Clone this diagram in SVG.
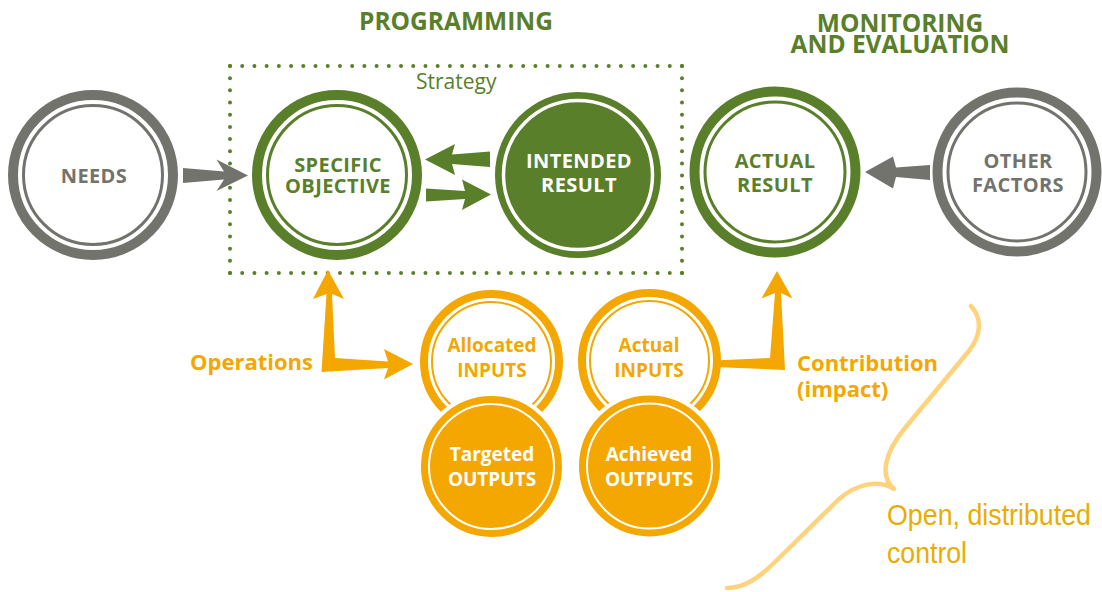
<svg xmlns="http://www.w3.org/2000/svg" width="1102" height="592" viewBox="0 0 1102 592">
  <style>
    .bg { fill: #ffffff; }
    .head { font-family: "Open Sans", "Noto Sans", sans-serif; font-weight: 700; font-size: 24.5px; fill: #5A7F2A; text-anchor: middle; }
    .lbl { font-family: "Open Sans", "Noto Sans", sans-serif; font-weight: 700; font-size: 20px; letter-spacing: 0.4px; text-anchor: middle; }
    .olbl { font-family: "Open Sans", "Noto Sans", sans-serif; font-weight: 700; font-size: 19px; text-anchor: middle; }
    .flow { font-family: "Open Sans", "Noto Sans", sans-serif; font-weight: 700; font-size: 22px; fill: #F4A700; }
    .note { font-family: "Liberation Sans", Arial, sans-serif; font-size: 30px; fill: #E8AD00; }
    .green { fill: #5A7F2A; }
    .gray { fill: #73736E; }
    .orange { fill: #F4A700; }
    .white { fill: #ffffff; }
    .ring-g { fill: #ffffff; stroke: #5A7F2A; }
    .ring-gray { fill: #ffffff; stroke: #73736E; }
    .thin-g { fill: none; stroke: #5A7F2A; stroke-width: 3; }
    .thin-gray { fill: none; stroke: #73736E; stroke-width: 3; }
    .ring-o { fill: #ffffff; stroke: #F4A700; stroke-width: 8; }
    .thin-o { fill: none; stroke: #F4A700; stroke-width: 2; }
    .disc-o { fill: #F4A700; stroke: #ffffff; stroke-width: 4; }
    .thin-w { fill: none; stroke: #ffffff; stroke-width: 2; }
    .dots { stroke: #5A7F2A; stroke-width: 4; stroke-linecap: round; fill: none; }
  </style>

  <rect class="bg" x="0" y="0" width="1102" height="592"/>

  <!-- headings -->
  <text class="head" x="456" y="30">PROGRAMMING</text>
  <text class="head" x="900" y="31.5">MONITORING</text>
  <text class="head" x="900" y="53">AND EVALUATION</text>

  <!-- strategy frame (dotted) -->
  <g id="strategy">
    <line class="dots" x1="230" y1="66" x2="682" y2="66" stroke-dasharray="0 12.216"/>
    <line class="dots" x1="230" y1="273" x2="682" y2="273" stroke-dasharray="0 12.216"/>
    <line class="dots" x1="230" y1="66" x2="230" y2="273" stroke-dasharray="0 12.176"/>
    <line class="dots" x1="682" y1="66" x2="682" y2="273" stroke-dasharray="0 12.176"/>
    <text x="416" y="88.5" font-family="'Open Sans', 'Noto Sans', sans-serif" font-size="21" fill="#5A7F2A">Strategy</text>
  </g>

  <!-- connectors -->
  <g id="connectors">
    <!-- needs -> specific objective -->
    <polygon class="gray" points="183,168 224,171.5 216.5,159.5 248,175.5 216.5,191 224,179.5 183,183"/>
    <!-- intended result -> specific objective -->
    <polygon class="green" points="490,151.5 452,154.5 455,144 425,159.5 455,175 452,164 490,167"/>
    <!-- specific objective -> intended result -->
    <polygon class="green" points="426,188.5 465,191 462,179.5 491,194.5 462,210 465,199 426,201.5"/>
    <!-- other factors -> actual result -->
    <polygon class="gray" points="930,165 896,167.5 893,156.5 865,172 893,188.5 896,177 930,180"/>
    <!-- operations: up to the objective, right to the inputs -->
    <polygon class="orange" points="328,270 344,299 332,294 335,358 388,361.5 384,349 413,364 384,379.5 388,368 321.5,372 326.5,294 313,299"/>
    <!-- contribution: from actual inputs up to the actual result -->
    <polygon class="orange" points="777,271 792.5,298.5 781,293 785,370 714,367 714,360.5 770,358 775,293 761.5,298.5"/>
  </g>

  <!-- top row -->
  <g id="needs">
    <circle class="ring-gray" cx="93" cy="175" r="80" stroke-width="10"/>
    <circle class="thin-gray" cx="93" cy="175" r="69.5"/>
    <text class="lbl gray" x="94" y="183">NEEDS</text>
  </g>

  <g id="specific-objective">
    <circle class="ring-g" cx="337" cy="175" r="80" stroke-width="10"/>
    <circle class="thin-g" cx="337" cy="175" r="69.5"/>
    <text class="lbl green" x="338" y="171.5">SPECIFIC</text>
    <text class="lbl green" x="338" y="193">OBJECTIVE</text>
  </g>

  <g id="intended-result">
    <circle class="green" cx="578" cy="175" r="83"/>
    <circle fill="none" stroke="#ffffff" stroke-width="3.5" cx="578" cy="175" r="74.5"/>
    <text class="lbl white" x="579" y="168">INTENDED</text>
    <text class="lbl white" x="579" y="192">RESULT</text>
  </g>

  <g id="actual-result">
    <circle class="ring-g" cx="775" cy="172" r="80.5" stroke-width="10"/>
    <circle class="thin-g" cx="775" cy="172" r="70"/>
    <text class="lbl green" x="775" y="168">ACTUAL</text>
    <text class="lbl green" x="775" y="192">RESULT</text>
  </g>

  <g id="other-factors">
    <circle class="ring-gray" cx="1017" cy="172" r="79.5" stroke-width="10"/>
    <circle class="thin-gray" cx="1017" cy="172" r="69"/>
    <text class="lbl gray" x="1018" y="168">OTHER</text>
    <text class="lbl gray" x="1018" y="192">FACTORS</text>
  </g>

  <!-- inputs / outputs pairs -->
  <g id="allocated-inputs">
    <circle class="ring-o" cx="491.5" cy="361.5" r="67.5"/>
    <circle class="thin-o" cx="491.5" cy="361.5" r="59.5"/>
    <text class="olbl orange" x="492" y="352">Allocated</text>
    <text class="olbl orange" x="492" y="377">INPUTS</text>
  </g>

  <g id="targeted-outputs">
    <circle class="disc-o" cx="491.5" cy="466.5" r="72.5"/>
    <circle class="thin-w" cx="491.5" cy="466.5" r="62.5"/>
    <text class="olbl white" x="492" y="461">Targeted</text>
    <text class="olbl white" x="492" y="486">OUTPUTS</text>
  </g>

  <g id="actual-inputs">
    <circle class="ring-o" cx="649.5" cy="360.5" r="67.5"/>
    <circle class="thin-o" cx="649.5" cy="360.5" r="59.5"/>
    <text class="olbl orange" x="649" y="352">Actual</text>
    <text class="olbl orange" x="649" y="377">INPUTS</text>
  </g>

  <g id="achieved-outputs">
    <circle class="disc-o" cx="649.5" cy="466" r="72.5"/>
    <circle class="thin-w" cx="649.5" cy="466" r="62.5"/>
    <text class="olbl white" x="649" y="461">Achieved</text>
    <text class="olbl white" x="649" y="486">OUTPUTS</text>
  </g>

  <!-- flow labels -->
  <text class="flow" x="313" y="370" text-anchor="end">Operations</text>
  <text class="flow" x="797" y="371">Contribution</text>
  <text class="flow" x="797" y="397">(impact)</text>

  <!-- brace and its note -->
  <g id="brace">
    <path d="M 971,306 C 982,318 982,335 968,352 L 905,428 C 885,452 879,476 894,489 C 880,480 858,482 838,500 L 776,561 C 760,577 745,588 727,588" fill="none" stroke="#FFD27C" stroke-width="4.5" stroke-linecap="round" stroke-linejoin="round"/>
    <text class="note" x="887" y="525" textLength="204" lengthAdjust="spacingAndGlyphs">Open, distributed</text>
    <text class="note" x="887" y="563" textLength="80" lengthAdjust="spacingAndGlyphs">control</text>
  </g>
</svg>
